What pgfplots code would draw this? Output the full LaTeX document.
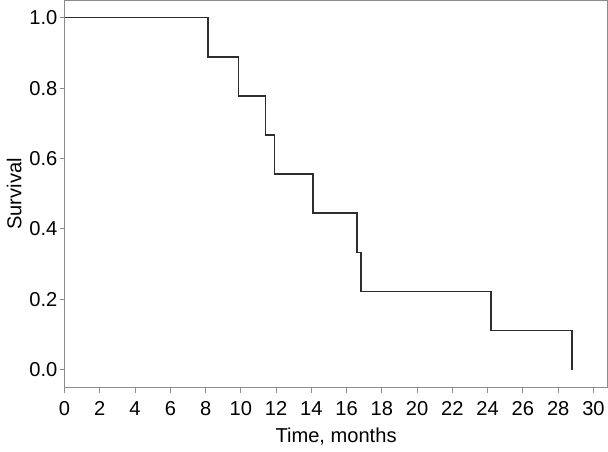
\documentclass[border=0pt]{standalone}
\usepackage{fontspec}
\setmainfont{Liberation Sans}
\usepackage{pgfplots}
\pgfplotsset{compat=1.18}
\definecolor{framegray}{HTML}{8C8C8C}
\definecolor{curve}{HTML}{2E2E2E}
\begin{document}
\fontsize{20bp}{23bp}\selectfont
\begin{tikzpicture}[x=1bp,y=1bp]
\begin{axis}[
  scale only axis,
  width=540bp, height=385bp,
  xmin=-0.0, xmax=30.8, ymin=-0.051, ymax=1.049,
  xtick={0,2,...,30},
  ytick={0,0.2,0.4,0.6,0.8,1.0},
  yticklabel style={inner sep=2bp, /pgf/number format/.cd, fixed, fixed zerofill, precision=1},
  /pgf/number format/assume math mode=true,
  tick label style={font=\fontsize{20bp}{23bp}\selectfont},
  label style={font=\fontsize{20bp}{23bp}\selectfont},
  xticklabel style={inner sep=2bp, yshift=-7bp},
  axis line style={framegray, line width=0.9bp},
  tick style={framegray, line width=0.9bp},
  tick align=outside, major tick length=5bp,
  xtick pos=bottom, ytick pos=left,
  xlabel={Time, months},
  ylabel={Survival},
  xlabel style={yshift=-3bp},
  ylabel style={yshift=-1bp},
]
\addplot[const plot, curve, line width=1.6bp] coordinates {
  (0, 1.0)
  (8.15, 0.8889)
  (9.87, 0.7778)
  (11.4, 0.6667)
  (11.9, 0.5556)
  (14.1, 0.4444)
  (16.6, 0.3333)
  (16.8, 0.2222)
  (24.2, 0.1111)
  (28.8, 0.0)
};
\end{axis}
\end{tikzpicture}
\end{document}
